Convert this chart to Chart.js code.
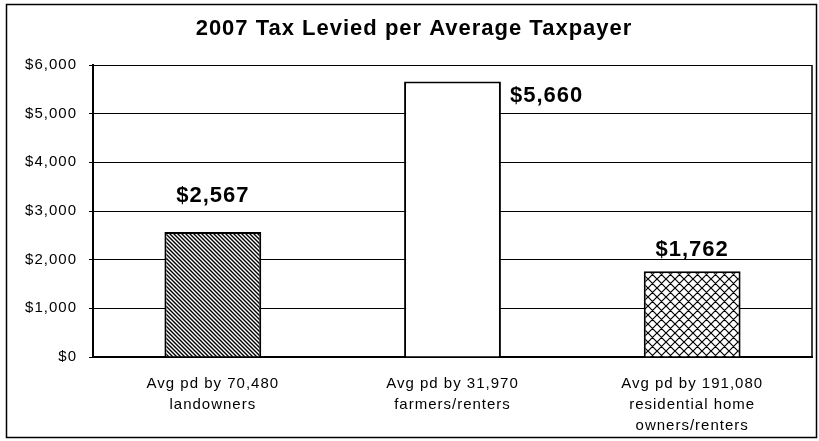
<!DOCTYPE html>
<html>
<head>
<meta charset="utf-8">
<script src="https://cdn.jsdelivr.net/npm/chart.js@4.4.1/dist/chart.umd.min.js"></script>
<style>
  html, body { margin: 0; padding: 0; background: #fff; }
  canvas { display: block; }
</style>
</head>
<body>
<canvas id="tax-chart" width="819" height="441"></canvas>
<script>
// --- Datos ---
const chartTitle = '2007 Tax Levied per Average Taxpayer';
const categories = [
    ['Avg pd by 70,480', 'landowners'],
    ['Avg pd by 31,970', 'farmers/renters'],
    ['Avg pd by 191,080', 'residential home', 'owners/renters']
];
const taxValues = [2567, 5660, 1762];
const yTicks = [0, 1000, 2000, 3000, 4000, 5000, 6000];

function formatMoney(v) {
    return '$' + v.toLocaleString('en-US');
}

// --- Patrones de relleno (rayado y cuadriculado) ---
function makeHatch(size, lineWidth, cross) {
    const c = document.createElement('canvas');
    c.width = size; c.height = size;
    const g = c.getContext('2d');
    g.fillStyle = '#fff';
    g.fillRect(0, 0, size, size);
    g.strokeStyle = '#000';
    g.lineWidth = lineWidth;
    g.beginPath();
    // diagonal "\"
    g.moveTo(-1, -1); g.lineTo(size + 1, size + 1);
    g.moveTo(-1, size - 1); g.lineTo(1, size + 1);
    g.moveTo(size - 1, -1); g.lineTo(size + 1, 1);
    if (cross) {
        // diagonal "/"
        g.moveTo(-1, size + 1); g.lineTo(size + 1, -1);
        g.moveTo(-1, 1); g.lineTo(1, -1);
        g.moveTo(size - 1, size + 1); g.lineTo(size + 1, size - 1);
    }
    g.stroke();
    return g.createPattern(c, 'repeat');
}

const fills = [makeHatch(4, 1.4, false), '#ffffff', makeHatch(9, 1.2, true)];

// --- Plugin: fondo, marco, titulo y etiquetas ---
const decorPlugin = {
    id: 'decor',
    beforeDraw(chart) {
        const ctx = chart.ctx;
        ctx.save();
        ctx.fillStyle = '#fff';
        ctx.fillRect(0, 0, chart.width, chart.height);
        ctx.restore();
        ctx.letterSpacing = '1px'; // el texto escaneado es mas ancho
    },
    afterDatasetsDraw(chart) {
        const ctx = chart.ctx;
        const meta = chart.getDatasetMeta(0);
        ctx.save();
        ctx.font = 'bold 22px Arial, "Liberation Sans", sans-serif';
        ctx.letterSpacing = '1px';
        ctx.fillStyle = '#000';
        ctx.textBaseline = 'middle';
        meta.data.forEach((bar, i) => {
            const text = formatMoney(taxValues[i]);
            if (i === 1) {
                ctx.textAlign = 'left';
                ctx.fillText(text, bar.x + bar.width / 2 + 9, bar.y + 14);
            } else {
                ctx.textAlign = 'center';
                ctx.fillText(text, bar.x, bar.y - (i === 0 ? 36 : 21));
            }
        });
        ctx.restore();
    },
    afterDraw(chart) {
        const ctx = chart.ctx;
        const area = chart.chartArea;
        ctx.save();
        ctx.strokeStyle = '#000';
        // borde derecho del area
        ctx.lineWidth = 1.5;
        ctx.beginPath();
        ctx.moveTo(area.right, area.top);
        ctx.lineTo(area.right, area.bottom);
        ctx.stroke();
        // marco exterior
        ctx.lineWidth = 1.5;
        ctx.strokeRect(6.5, 4.5, 810, 433);
        // titulo
        ctx.font = 'bold 22px Arial, "Liberation Sans", sans-serif';
        ctx.letterSpacing = '1px';
        ctx.fillStyle = '#000';
        ctx.textAlign = 'center';
        ctx.textBaseline = 'middle';
        ctx.fillText(chartTitle, 414, 29);
        ctx.restore();
    }
};

const ctx = document.getElementById('tax-chart').getContext('2d');
const taxChart = new Chart(ctx, {
    type: 'bar',
    data: {
        labels: categories,
        datasets: [{
            data: taxValues,
            backgroundColor: fills,
            borderColor: '#000',
            borderWidth: 2,
            categoryPercentage: 1,
            barPercentage: 0.404
        }]
    },
    options: {
        responsive: false,
        animation: false,
        layout: { padding: { top: 65, right: 7, left: 0, bottom: 0 } },
        plugins: {
            legend: { display: false },
            title: { display: false },
            tooltip: { enabled: false }
        },
        scales: {
            x: {
                grid: { display: false, drawTicks: false },
                border: { display: true, color: '#000', width: 2 },
                ticks: {
                    color: '#000',
                    padding: 16,
                    maxRotation: 0,
                    font: { family: 'Arial, "Liberation Sans", sans-serif', size: 15, lineHeight: '21px' }
                },
                afterFit: s => { s.height = 84; }
            },
            y: {
                min: 0,
                max: 6000,
                afterBuildTicks: s => { s.ticks = yTicks.map(v => ({ value: v })); },
                grid: { color: '#000', lineWidth: 1, tickLength: 4, tickColor: '#000' },
                border: { display: true, color: '#000', width: 2 },
                ticks: {
                    color: '#000',
                    padding: 12,
                    callback: v => formatMoney(v),
                    font: { family: 'Arial, "Liberation Sans", sans-serif', size: 15 }
                },
                afterFit: s => { s.width = 93; }
            }
        }
    },
    plugins: [decorPlugin]
});
</script>
</body>
</html>
